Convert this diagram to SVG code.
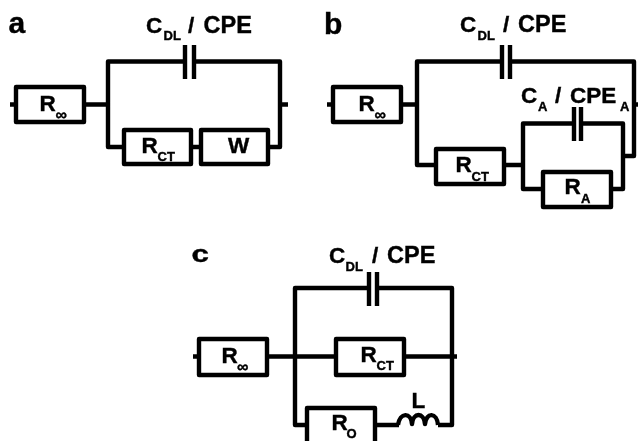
<svg xmlns="http://www.w3.org/2000/svg" width="638" height="441" viewBox="0 0 638 441">
<style>
.w{fill:none;stroke:#000;stroke-width:4.400;stroke-linejoin:round}
.b{fill:#fff;stroke:#000;stroke-width:4.400;stroke-linejoin:round}
text{font-family:"Liberation Sans",Arial,sans-serif;font-weight:700;fill:#000;stroke:#000;stroke-width:.4}
.l{font-size:22.5px}.c{font-size:23.5px}.s{font-size:13px}.p{font-size:30px}.i{font-size:16px}
</style>
<defs><filter id="soft" x="0" y="0" width="100%" height="100%"><feGaussianBlur stdDeviation="0.45"/></filter></defs>
<rect width="638" height="441" fill="#fff"/>
<g filter="url(#soft)">
<g id="connectors">
<path class="w" d="M10 104.500H16M84 104.500H108M124 147H108V61.500H185M194 61.500H280V147H268M280 104.500H288M191 147H201"/>
<path class="w" d="M185 45V79M194 45V79"/>
<path class="w" d="M327 104.500H333M401 104.500H417M436 165H417V61.500H502M510 61.500H634V156H623M634 104.500H638M504 165H523M543 189H523V123.500H574M581 123.500H623V189H611"/>
<path class="w" d="M502 45V79M510 45V79M574 107V141M581 107V141"/>
<path class="w" d="M193 356.500H199M267 356.500H336M404 356.500H457M307 425H295V288H369M377 288H452V425H438M375 425H399"/>
<path class="w" d="M369 272V306M377 272V306"/>
<path class="w" d="M398 425C400 412 411 412 412 424C413 412 424 412 425 424C426 412 437 412 438 425"/>
</g>
<g id="a-label"><text class="p" x="8.500" y="33">a</text></g>
<g id="a-cdl"><text class="l" x="146" y="33">C</text><text class="s" x="163.500" y="40">DL</text><text class="l" x="188" y="33">/</text><text class="c" x="203.500" y="33">CPE</text></g>
<g id="a-rinf"><rect class="b" x="16" y="87" width="68" height="35"/><text class="l" x="39.500" y="111">R</text><text class="i" x="55.500" y="120">∞</text></g>
<g id="a-rct"><rect class="b" x="124" y="130" width="67" height="34"/><text class="l" x="141.500" y="152.500">R</text><text class="s" x="157.500" y="161">CT</text></g>
<g id="a-w"><rect class="b" x="201" y="130" width="67" height="34"/><text class="l" x="228" y="152.500">W</text></g>
<g id="b-label"><text class="p" x="324" y="34">b</text></g>
<g id="b-cdl"><text class="l" x="460" y="32">C</text><text class="s" x="477.500" y="40">DL</text><text class="l" x="503" y="32">/</text><text class="c" x="518" y="32">CPE</text></g>
<g id="b-rinf"><rect class="b" x="333" y="87" width="68" height="35"/><text class="l" x="358.500" y="111">R</text><text class="i" x="374.500" y="120">∞</text></g>
<g id="b-ca"><text class="l" x="521" y="103">C</text><text class="s" x="538" y="111">A</text><text class="l" x="555" y="103">/</text><text class="l" x="570" y="103">CPE</text><text class="s" x="620" y="111">A</text></g>
<g id="b-rct"><rect class="b" x="436" y="149" width="68" height="35"/><text class="l" x="455.500" y="172">R</text><text class="s" x="471.500" y="181">CT</text></g>
<g id="b-ra"><rect class="b" x="543" y="172" width="68" height="35"/><text class="l" x="564.500" y="194">R</text><text class="s" x="581" y="203">A</text></g>
<g id="c-label"><text transform="translate(191.500 262) scale(1.3 1)" x="0" y="0" style="font-size:24px">c</text></g>
<g id="c-cdl"><text class="l" x="329" y="263">C</text><text class="s" x="345.500" y="271">DL</text><text class="l" x="372" y="263">/</text><text class="c" x="387" y="263">CPE</text></g>
<g id="c-rinf"><rect class="b" x="199" y="339" width="68" height="36"/><text class="l" x="221.500" y="362.500">R</text><text class="i" x="237" y="372">∞</text></g>
<g id="c-rct"><rect class="b" x="336" y="339" width="68" height="36"/><text class="l" x="360.500" y="361.500">R</text><text class="s" x="376.500" y="370">CT</text></g>
<g id="c-ro"><rect class="b" x="307" y="408" width="68" height="36"/><text class="l" x="331.500" y="430">R</text><text class="s" x="346.500" y="438">O</text></g>
<g id="c-l"><text class="l" x="411.500" y="408">L</text></g>
</g>
</svg>
